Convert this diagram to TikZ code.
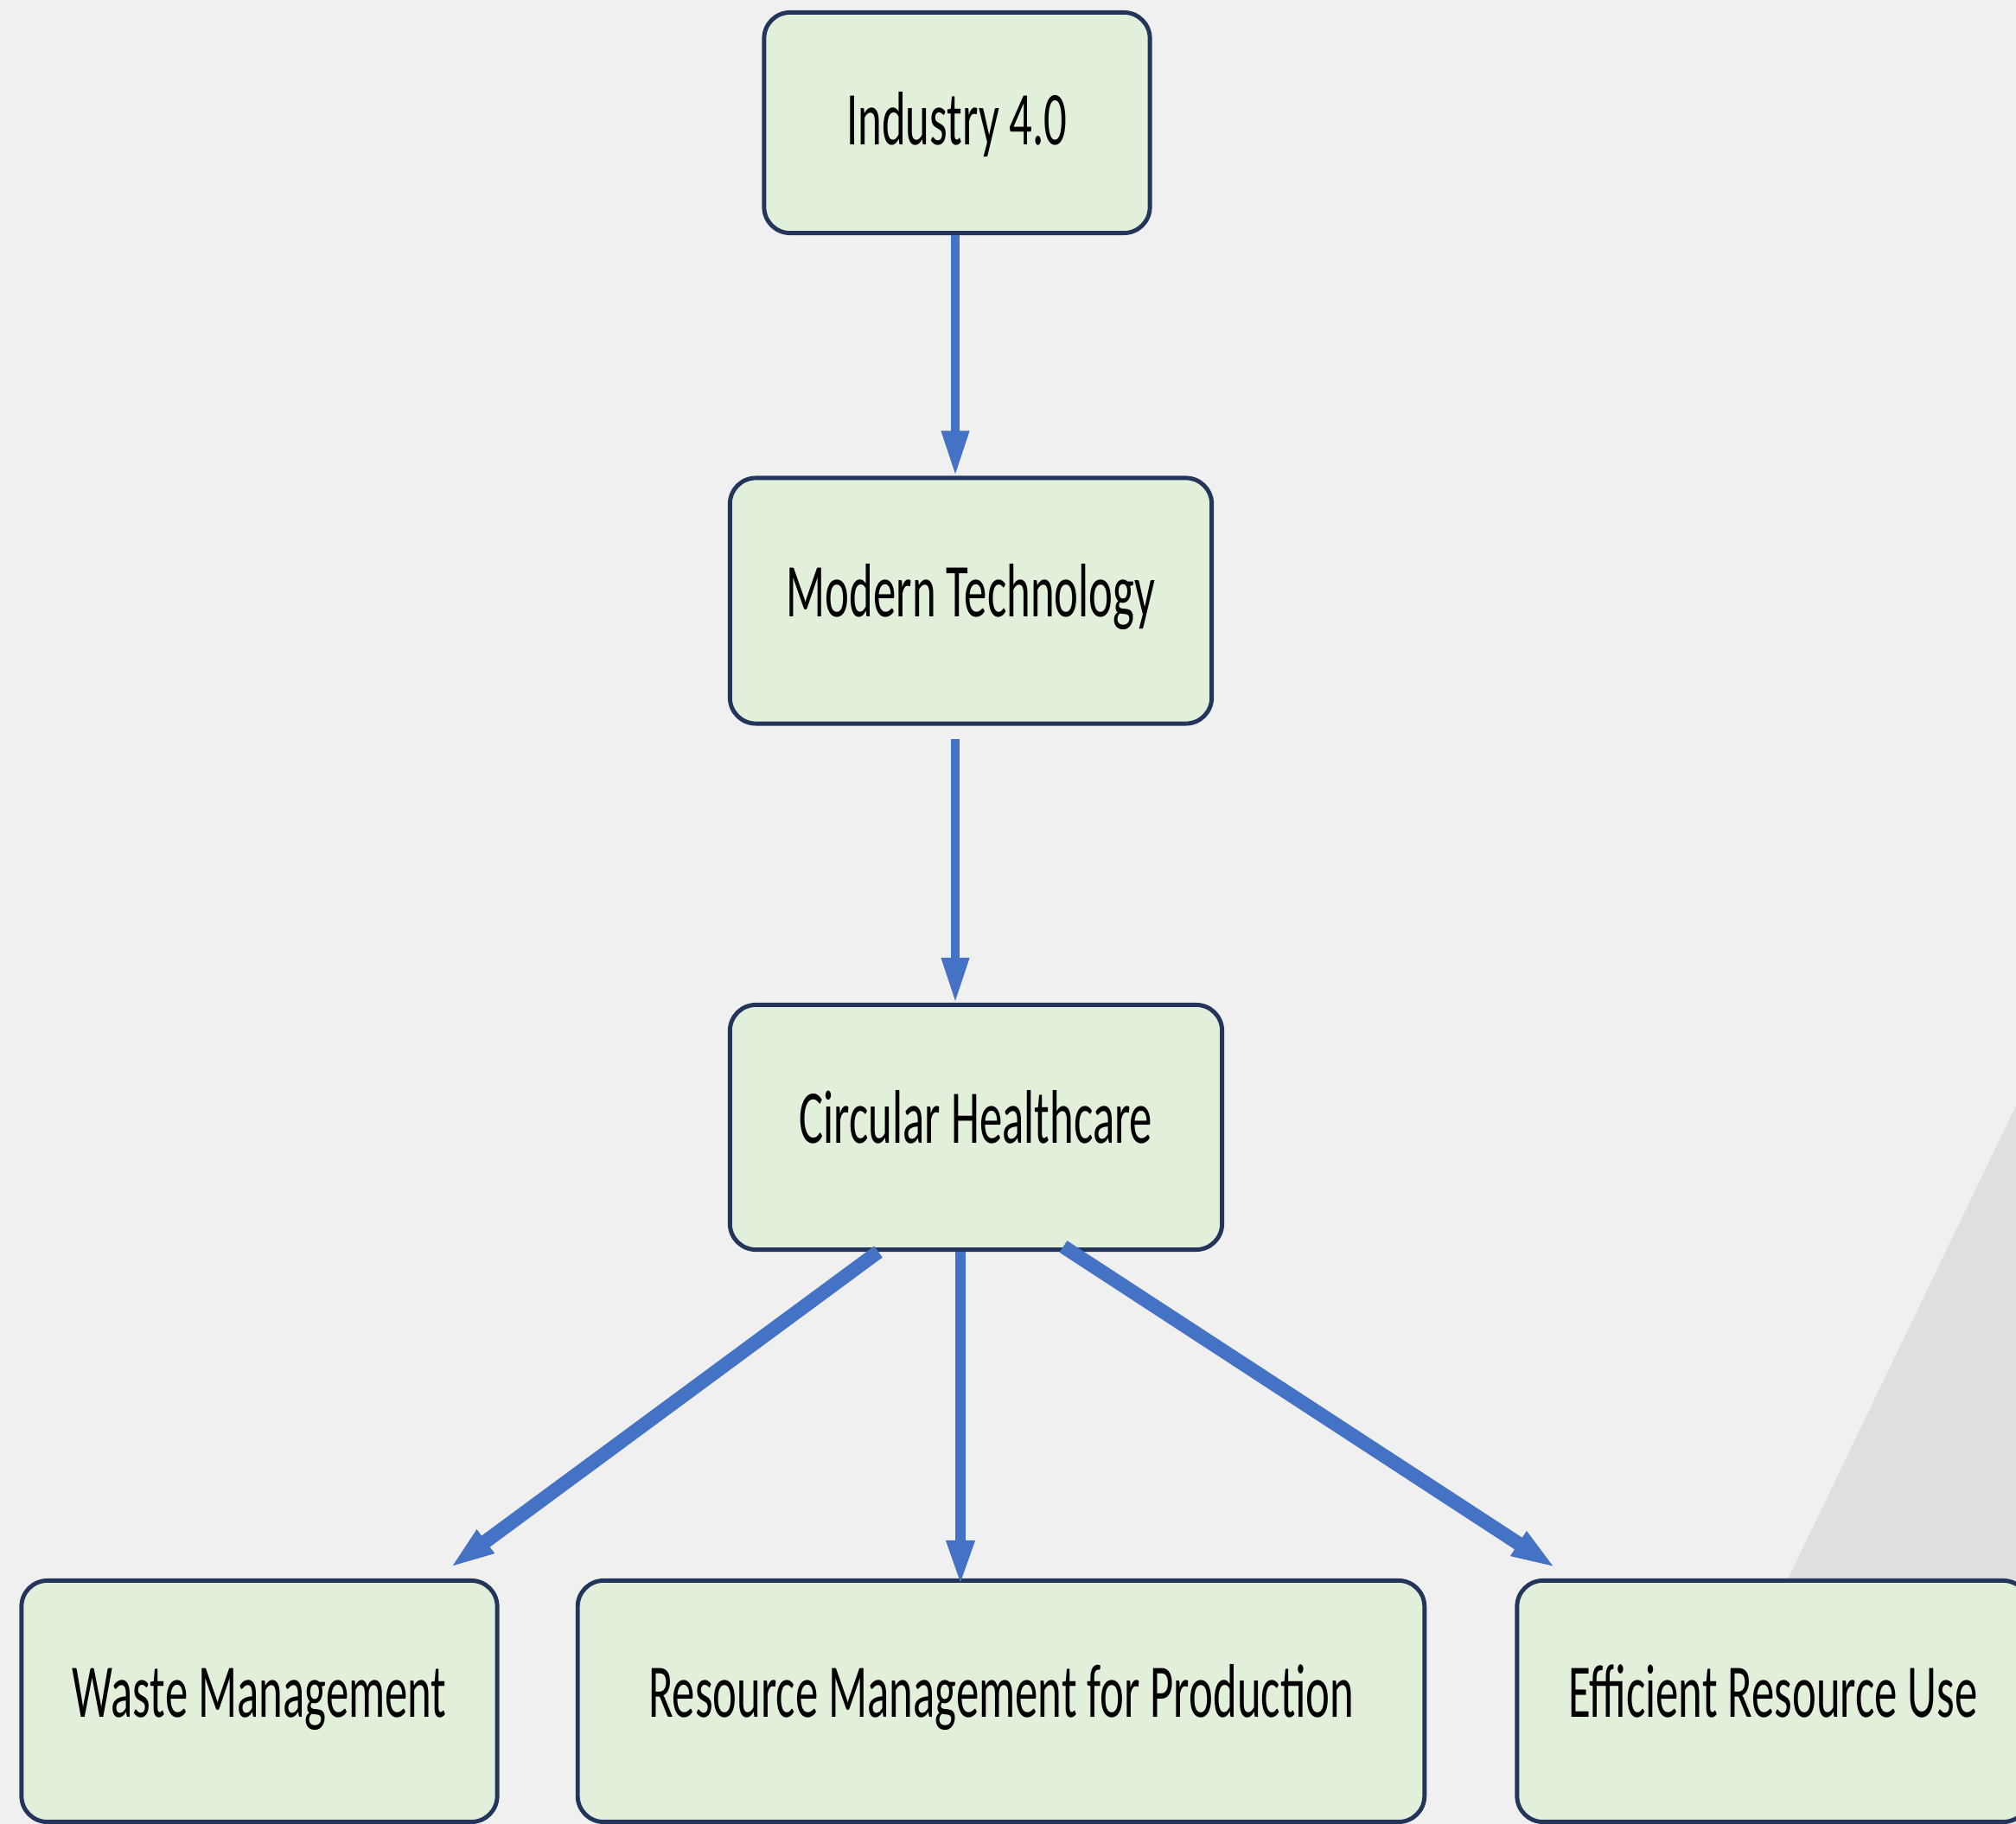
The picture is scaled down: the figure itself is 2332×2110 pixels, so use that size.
\documentclass[tikz,border=0pt]{standalone}
\usepackage{fontspec}
\usepackage{tikz}
\usetikzlibrary{arrows.meta,calc}

\newfontfamily\boxfont[FakeStretch=0.6]{Carlito}
\definecolor{pagebg}{HTML}{F0F0F0}
\definecolor{wedgegray}{HTML}{DFDFDF}
\definecolor{boxfill}{HTML}{E2EFDA}
\definecolor{boxline}{HTML}{23355A}
\definecolor{arrowblue}{HTML}{4472C4}

\begin{document}
\begin{tikzpicture}[x=0.01cm, y=-0.01cm,
                    main node/.style={rectangle,rounded corners=0.3cm,draw=boxline,line width=1.4pt,
                      fill=boxfill,font=\boxfont\fontsize{25}{30}\selectfont,
                      text height=0.6cm,text depth=0.24cm,minimum height=2.8cm},
                    link/.style={draw=arrowblue,line width=#1,-{Triangle[length=0.52cm,width=0.3cm]}}]

  % page and the grey wedge behind the last box
  \clip (0,0) rectangle (2332,2110);
  \fill[pagebg] (0,0) rectangle (2332,2110);
  \fill[wedgegray] (2332,1279) -- (2067,1829) -- (1932,2110) -- (2332,2110) -- cycle;

  \node[main node,minimum width=4.46cm,minimum height=2.55cm,text depth=0.1cm] (1) at (1107,142) {Industry 4.0};
  \node[main node,minimum width=5.57cm,minimum height=2.84cm] (2) at (1123,695) {Modern Technology};
  \node[main node,minimum width=5.69cm,minimum height=2.83cm] (3) at (1129,1304) {Circular Healthcare};
  \node[main node,minimum width=5.50cm,minimum height=2.79cm] (4) at (300,1968) {Waste Management};
  \node[main node,minimum width=9.79cm,minimum height=2.79cm] (5) at (1158,1968) {Resource Management for Production};
  \node[main node,minimum width=5.92cm,minimum height=2.79cm] (6) at (2051,1968) {Efficient Resource Use};

  \draw[link=2.8pt] ($(1.south)+(-2,0)$) -- ($(1.south |- 2.north)+(-2,0)$);
  \draw[link=2.8pt] ($(1.south |- 2.south)+(-2,15)$) -- ($(1.south |- 3.north)+(-2,0)$);
  \draw[link=4.6pt] ($(3.south)+(-113,0)$) -- ($(4.north)+(220,-12)$);
  \draw[link=3.4pt] ($(3.south)+(-18,0)$) -- ($(3.south |- 5.north)+(-18,8)$);
  \draw[link=4.6pt] ($(3.south)+(101,-6)$) -- ($(6.north)+(-251,-12)$);
\end{tikzpicture}
\end{document}
